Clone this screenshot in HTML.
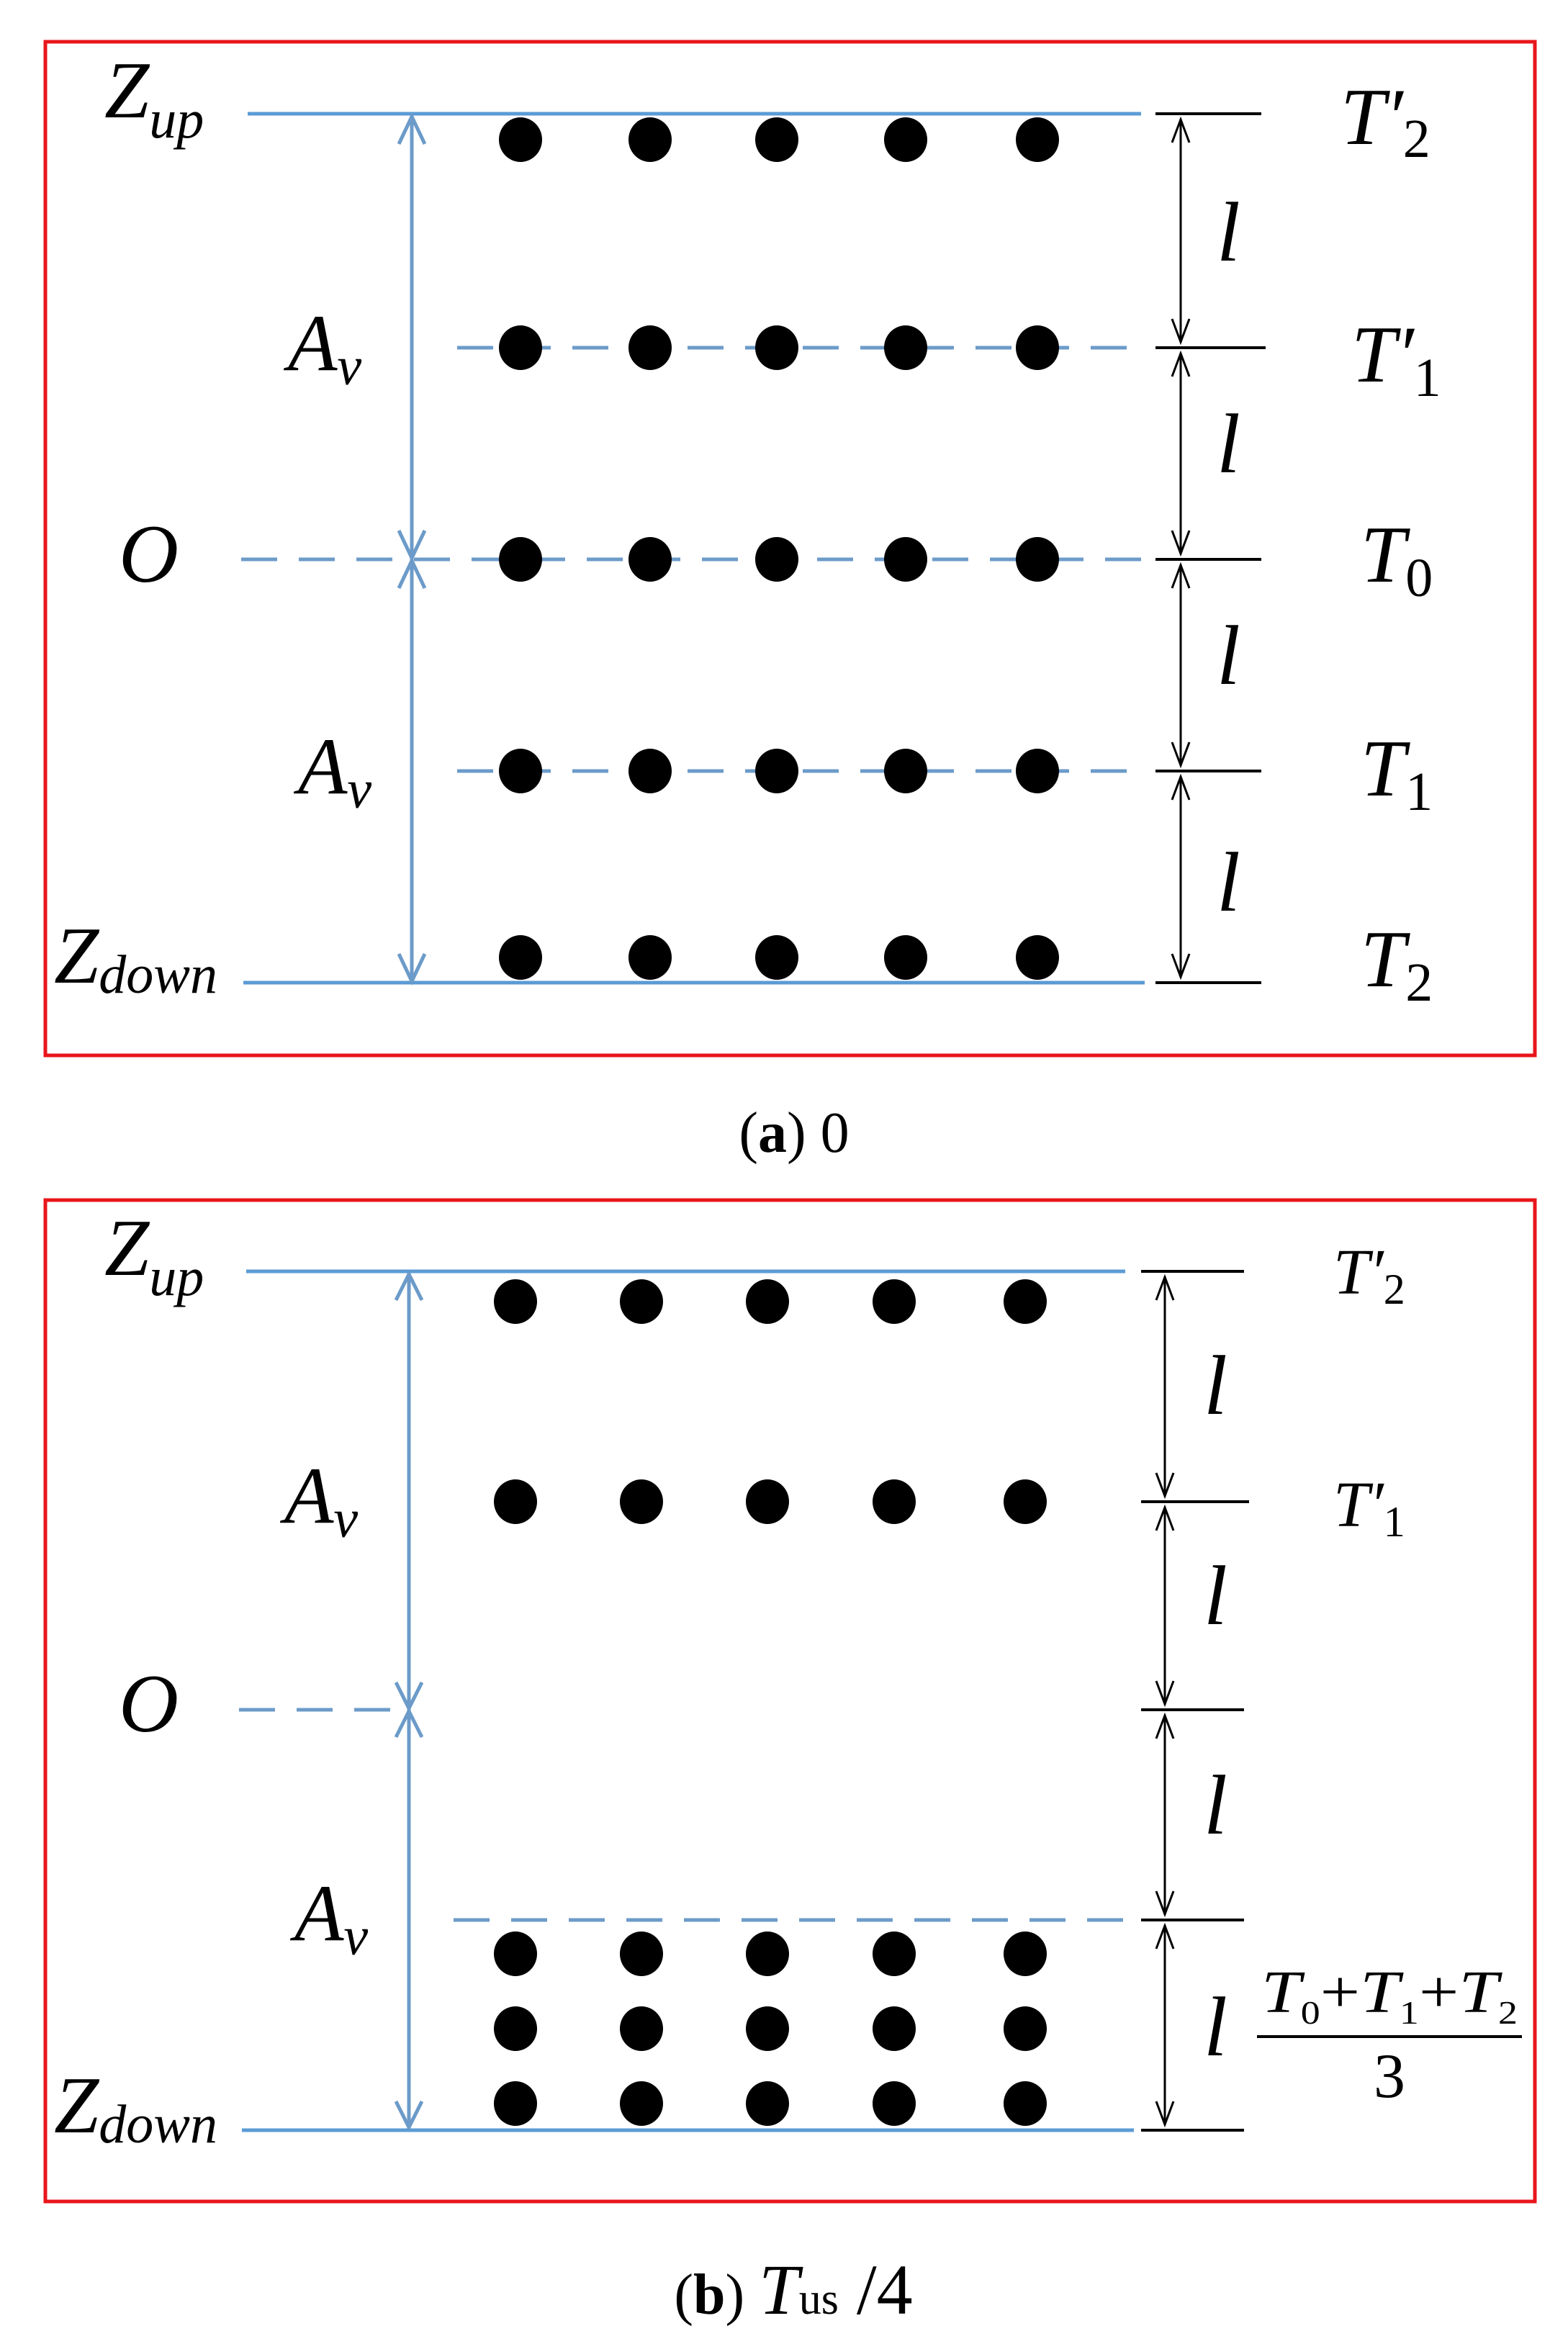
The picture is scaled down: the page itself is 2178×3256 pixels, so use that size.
<!DOCTYPE html>
<html><head><meta charset="utf-8"><style>
html,body{margin:0;padding:0;background:#fff;}
svg{display:block;}
text{font-family:"Liberation Serif",serif;fill:#000;}
.m{font-style:italic;}
</style></head><body>
<svg width="2178" height="3256" viewBox="0 0 2178 3256" xmlns="http://www.w3.org/2000/svg">
<defs>
<g id="dot"><ellipse cx="0" cy="0" rx="30" ry="31" fill="#000"/></g>
</defs>
<!-- ============ PANEL A ============ -->
<rect x="63" y="58" width="2069" height="1408" fill="none" stroke="#e8161b" stroke-width="5"/>
<g stroke="#5b9bd5" stroke-width="5" fill="none">
<line x1="344" y1="158" x2="1585" y2="158"/>
<line x1="338" y1="1365" x2="1590" y2="1365"/>
<line x1="635" y1="483" x2="1592" y2="483" stroke-dasharray="50 30" stroke="#6c9bc9"/>
<line x1="335" y1="777" x2="1592" y2="777" stroke-dasharray="50 30" stroke="#6c9bc9"/>
<line x1="635" y1="1071" x2="1592" y2="1071" stroke-dasharray="50 30" stroke="#6c9bc9"/>
<line x1="572" y1="160" x2="572" y2="1363" stroke="#6c9bc9"/>
<polyline points="554,200 572,162 590,200" stroke="#6c9bc9"/>
<polyline points="554,737 572,775 590,737" stroke="#6c9bc9"/>
<polyline points="554,817 572,779 590,817" stroke="#6c9bc9"/>
<polyline points="554,1325 572,1363 590,1325" stroke="#6c9bc9"/>
</g>
<g stroke="#000" stroke-width="4" fill="none">
<line x1="1605" y1="158" x2="1752" y2="158"/>
<line x1="1605" y1="483" x2="1758" y2="483"/>
<line x1="1605" y1="777" x2="1752" y2="777"/>
<line x1="1605" y1="1071" x2="1752" y2="1071"/>
<line x1="1605" y1="1365" x2="1752" y2="1365"/>
<line x1="1640" y1="165" x2="1640" y2="476" stroke-width="3"/>
<line x1="1640" y1="490" x2="1640" y2="770" stroke-width="3"/>
<line x1="1640" y1="784" x2="1640" y2="1064" stroke-width="3"/>
<line x1="1640" y1="1078" x2="1640" y2="1358" stroke-width="3"/>
<g stroke-width="3">
<polyline points="1628,198 1640,166 1652,198"/><polyline points="1628,443 1640,475 1652,443"/>
<polyline points="1628,523 1640,491 1652,523"/><polyline points="1628,737 1640,769 1652,737"/>
<polyline points="1628,817 1640,785 1652,817"/><polyline points="1628,1031 1640,1063 1652,1031"/>
<polyline points="1628,1111 1640,1079 1652,1111"/><polyline points="1628,1325 1640,1357 1652,1325"/>
</g>
</g>
<g>
<use href="#dot" x="723" y="194"/><use href="#dot" x="903" y="194"/><use href="#dot" x="1079" y="194"/><use href="#dot" x="1258" y="194"/><use href="#dot" x="1441" y="194"/>
<use href="#dot" x="723" y="483"/><use href="#dot" x="903" y="483"/><use href="#dot" x="1079" y="483"/><use href="#dot" x="1258" y="483"/><use href="#dot" x="1441" y="483"/>
<use href="#dot" x="723" y="777"/><use href="#dot" x="903" y="777"/><use href="#dot" x="1079" y="777"/><use href="#dot" x="1258" y="777"/><use href="#dot" x="1441" y="777"/>
<use href="#dot" x="723" y="1071"/><use href="#dot" x="903" y="1071"/><use href="#dot" x="1079" y="1071"/><use href="#dot" x="1258" y="1071"/><use href="#dot" x="1441" y="1071"/>
<use href="#dot" x="723" y="1330"/><use href="#dot" x="903" y="1330"/><use href="#dot" x="1079" y="1330"/><use href="#dot" x="1258" y="1330"/><use href="#dot" x="1441" y="1330"/>
</g>
<text class="m" x="145" y="163" font-size="112">Z<tspan font-size="76" dy="28">up</tspan></text>
<text class="m" x="75" y="1365" font-size="112">Z<tspan font-size="76" dy="14">down</tspan></text>
<text class="m" x="400" y="514" font-size="112">A<tspan font-size="76" dy="20">v</tspan></text>
<text class="m" x="414" y="1102" font-size="112">A<tspan font-size="76" dy="20">v</tspan></text>
<text class="m" x="165" y="808" font-size="115">O</text>
<text class="m" x="1862" y="200" font-size="112">T′<tspan font-size="76" dy="18" font-style="normal">2</tspan></text>
<text class="m" x="1877" y="530" font-size="112">T′<tspan font-size="76" dy="20" font-style="normal">1</tspan></text>
<text class="m" x="1890" y="808" font-size="112">T<tspan font-size="76" dy="20" font-style="normal">0</tspan></text>
<text class="m" x="1890" y="1105" font-size="112">T<tspan font-size="76" dy="20" font-style="normal">1</tspan></text>
<text class="m" x="1890" y="1370" font-size="112">T<tspan font-size="76" dy="20" font-style="normal">2</tspan></text>
<text class="m" x="1690" y="362" font-size="118">l</text>
<text class="m" x="1690" y="656" font-size="118">l</text>
<text class="m" x="1690" y="950" font-size="118">l</text>
<text class="m" x="1690" y="1265" font-size="118">l</text>
<text x="1103" y="1600" font-size="80" text-anchor="middle">(<tspan font-weight="bold">a</tspan>) 0</text>

<!-- ============ PANEL B ============ -->
<rect x="63" y="1667" width="2069" height="1391" fill="none" stroke="#e8161b" stroke-width="5"/>
<g stroke="#5b9bd5" stroke-width="5" fill="none">
<line x1="342" y1="1766" x2="1563" y2="1766"/>
<line x1="336" y1="2959" x2="1575" y2="2959"/>
<line x1="332" y1="2375" x2="552" y2="2375" stroke-dasharray="50 30" stroke="#6c9bc9"/>
<line x1="630" y1="2667" x2="1585" y2="2667" stroke-dasharray="50 30" stroke="#6c9bc9"/>
<line x1="568" y1="1768" x2="568" y2="2957" stroke="#6c9bc9"/>
<polyline points="550,1806 568,1770 586,1806" stroke="#6c9bc9"/>
<polyline points="550,2337 568,2373 586,2337" stroke="#6c9bc9"/>
<polyline points="550,2413 568,2377 586,2413" stroke="#6c9bc9"/>
<polyline points="550,2919 568,2955 586,2919" stroke="#6c9bc9"/>
</g>
<g stroke="#000" stroke-width="4" fill="none">
<line x1="1585" y1="1766" x2="1728" y2="1766"/>
<line x1="1585" y1="2086" x2="1735" y2="2086"/>
<line x1="1585" y1="2375" x2="1728" y2="2375"/>
<line x1="1585" y1="2667" x2="1728" y2="2667"/>
<line x1="1585" y1="2959" x2="1728" y2="2959"/>
<g stroke-width="3">
<line x1="1618" y1="1773" x2="1618" y2="2079"/>
<line x1="1618" y1="2093" x2="1618" y2="2368"/>
<line x1="1618" y1="2382" x2="1618" y2="2660"/>
<line x1="1618" y1="2674" x2="1618" y2="2952"/>
<polyline points="1606,1806 1618,1774 1630,1806"/><polyline points="1606,2046 1618,2078 1630,2046"/>
<polyline points="1606,2126 1618,2094 1630,2126"/><polyline points="1606,2335 1618,2367 1630,2335"/>
<polyline points="1606,2415 1618,2383 1630,2415"/><polyline points="1606,2627 1618,2659 1630,2627"/>
<polyline points="1606,2707 1618,2675 1630,2707"/><polyline points="1606,2919 1618,2951 1630,2919"/>
</g>
<line x1="1746" y1="2829" x2="2114" y2="2829" stroke-width="4"/>
</g>
<g>
<use href="#dot" x="716" y="1808"/><use href="#dot" x="891" y="1808"/><use href="#dot" x="1066" y="1808"/><use href="#dot" x="1242" y="1808"/><use href="#dot" x="1424" y="1808"/>
<use href="#dot" x="716" y="2086"/><use href="#dot" x="891" y="2086"/><use href="#dot" x="1066" y="2086"/><use href="#dot" x="1242" y="2086"/><use href="#dot" x="1424" y="2086"/>
<use href="#dot" x="716" y="2714"/><use href="#dot" x="891" y="2714"/><use href="#dot" x="1066" y="2714"/><use href="#dot" x="1242" y="2714"/><use href="#dot" x="1424" y="2714"/>
<use href="#dot" x="716" y="2818"/><use href="#dot" x="891" y="2818"/><use href="#dot" x="1066" y="2818"/><use href="#dot" x="1242" y="2818"/><use href="#dot" x="1424" y="2818"/>
<use href="#dot" x="716" y="2922"/><use href="#dot" x="891" y="2922"/><use href="#dot" x="1066" y="2922"/><use href="#dot" x="1242" y="2922"/><use href="#dot" x="1424" y="2922"/>
</g>
<text class="m" x="145" y="1771" font-size="112">Z<tspan font-size="76" dy="28">up</tspan></text>
<text class="m" x="75" y="2962" font-size="112">Z<tspan font-size="76" dy="14">down</tspan></text>
<text class="m" x="395" y="2115" font-size="112">A<tspan font-size="76" dy="20">v</tspan></text>
<text class="m" x="409" y="2695" font-size="112">A<tspan font-size="76" dy="20">v</tspan></text>
<text class="m" x="165" y="2405" font-size="115">O</text>
<text class="m" x="1852" y="1797" font-size="90">T′<tspan font-size="60" dy="14" font-style="normal">2</tspan></text>
<text class="m" x="1852" y="2120" font-size="90">T′<tspan font-size="60" dy="14" font-style="normal">1</tspan></text>
<text class="m" x="1672" y="1964" font-size="118">l</text>
<text class="m" x="1672" y="2256" font-size="118">l</text>
<text class="m" x="1672" y="2547" font-size="118">l</text>
<text class="m" x="1672" y="2855" font-size="118">l</text>
<text x="1752" y="2795" font-size="84" textLength="356" lengthAdjust="spacingAndGlyphs"><tspan class="m">T</tspan><tspan font-size="46" dy="16">0</tspan><tspan dy="-16">+</tspan><tspan class="m">T</tspan><tspan font-size="46" dy="16">1</tspan><tspan dy="-16">+</tspan><tspan class="m">T</tspan><tspan font-size="46" dy="16">2</tspan></text>
<text x="1930" y="2913" font-size="88" text-anchor="middle">3</text>
<text x="1102" y="3214" font-size="80" text-anchor="middle">(<tspan font-weight="bold">b</tspan>) <tspan class="m" font-size="100">T</tspan><tspan font-size="62">us</tspan><tspan font-size="100"> /4</tspan></text>
</svg>
</body></html>
